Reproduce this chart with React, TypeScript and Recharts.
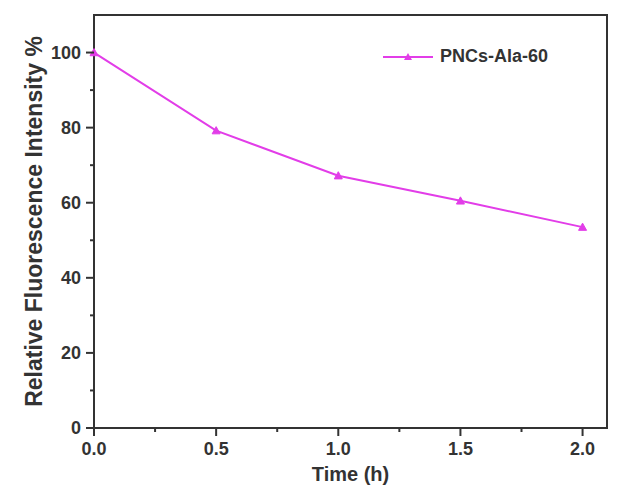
import React from 'react';
import { LineChart, Line, XAxis, YAxis, Legend, ReferenceArea } from 'recharts';

const times = [0, 0.5, 1.0, 1.5, 2.0];
const intensity = [100, 79.2, 67.2, 60.5, 53.5];
const seriesName = 'PNCs-Ala-60';
const xMajorTicks = [0, 0.5, 1.0, 1.5, 2.0];
const xMinorTicks = [0.25, 0.75, 1.25, 1.75];
const yMajorTicks = [0, 20, 40, 60, 80, 100];
const yMinorTicks = [10, 30, 50, 70, 90];
const xDomain = [0, 2.1];
const yDomain = [0, 110];

const data = times.map((t, i) => ({ t, v: intensity[i] }));
const xTicks = [...xMajorTicks, ...xMinorTicks].sort((a, b) => a - b);
const yTicks = [...yMajorTicks, ...yMinorTicks].sort((a, b) => a - b);

const COLOR = '#e23de8';
const AXIS = '#333333';
const FONT = '"Liberation Sans", Arial, sans-serif';
const TICK_SIZE = 8;
const MINOR_SIZE = 4;
const X_TICK_MARGIN = 6;
const Y_TICK_MARGIN = 5;

const Triangle = (props: any) => {
  const { cx, cy } = props;
  if (cx == null || cy == null) return <g />;
  const s = 4;
  return <path d={`M${cx},${cy - s} L${cx + s},${cy + s * 0.8} L${cx - s},${cy + s * 0.8} Z`} fill={COLOR} stroke={COLOR} />;
};

const XTick = (props: any) => {
  const { x, y, payload } = props;
  const v = payload.value as number;
  const major = xMajorTicks.includes(v);
  const axisY = y - TICK_SIZE - X_TICK_MARGIN;
  return (
    <g>
      <line x1={x} x2={x} y1={axisY} y2={axisY + (major ? TICK_SIZE : MINOR_SIZE)} stroke={AXIS} strokeWidth={2} />
      {major && (
        <text x={x} y={y} dy="0.71em" textAnchor="middle" fill={AXIS} fontFamily={FONT} fontWeight={700} fontSize={18}>
          {v.toFixed(1)}
        </text>
      )}
    </g>
  );
};

const YTick = (props: any) => {
  const { x, y, payload } = props;
  const v = payload.value as number;
  const major = yMajorTicks.includes(v);
  const axisX = x + TICK_SIZE + Y_TICK_MARGIN;
  return (
    <g>
      <line x1={axisX} x2={axisX - (major ? TICK_SIZE : MINOR_SIZE)} y1={y} y2={y} stroke={AXIS} strokeWidth={2} />
      {major && (
        <text x={x} y={y} dy="0.355em" textAnchor="end" fill={AXIS} fontFamily={FONT} fontWeight={700} fontSize={18}>
          {v}
        </text>
      )}
    </g>
  );
};

const LegendContent = () => (
  <div style={{ display: 'flex', alignItems: 'center', fontFamily: FONT, fontWeight: 700, fontSize: 18, color: AXIS }}>
    <svg width={50} height={12} style={{ marginRight: 7 }}>
      <line x1={0} y1={6} x2={50} y2={6} stroke={COLOR} strokeWidth={2} />
      <path d="M25,2 L29,9 L21,9 Z" fill={COLOR} />
    </svg>
    <span>{seriesName}</span>
  </div>
);

export default function App() {
  return (
    <div style={{ position: 'absolute', left: 0, top: 0, background: '#fff' }}>
      <LineChart width={624} height={499} data={data} margin={{ top: 15, right: 17, bottom: 0, left: 0 }}>
        <XAxis
          xAxisId="main"
          dataKey="t"
          type="number"
          domain={xDomain}
          ticks={xTicks}
          interval={0}
          height={71}
          axisLine={{ stroke: AXIS, strokeWidth: 2 }}
          tickLine={false}
          tickSize={TICK_SIZE}
          tickMargin={X_TICK_MARGIN}
          tick={XTick}
          label={{ value: 'Time (h)', position: 'insideBottom', offset: 18, fill: AXIS, fontFamily: FONT, fontWeight: 700, fontSize: 20 }}
        />
        <YAxis
          yAxisId="main"
          type="number"
          domain={yDomain}
          ticks={yTicks}
          interval={0}
          width={94}
          axisLine={{ stroke: AXIS, strokeWidth: 2 }}
          tickLine={false}
          tickSize={TICK_SIZE}
          tickMargin={Y_TICK_MARGIN}
          tick={YTick}
          label={{ value: 'Relative Fluorescence Intensity %', angle: -90, position: 'insideLeft', offset: 34, style: { textAnchor: 'middle' }, fill: AXIS, fontFamily: FONT, fontWeight: 700, fontSize: 23 }}
        />
        <ReferenceArea
          xAxisId="main"
          yAxisId="main"
          x1={xDomain[0]}
          x2={xDomain[1]}
          y1={yDomain[0]}
          y2={yDomain[1]}
          fill="none"
          fillOpacity={0}
          stroke={AXIS}
          strokeWidth={2}
          ifOverflow="visible"
        />
        <Legend content={LegendContent} verticalAlign="middle" align="center" layout="horizontal" wrapperStyle={{ top: 46, left: 383, width: 220 }} />
        <Line
          xAxisId="main"
          yAxisId="main"
          type="linear"
          dataKey="v"
          name={seriesName}
          stroke={COLOR}
          strokeWidth={2}
          dot={<Triangle />}
          activeDot={false}
          isAnimationActive={false}
        />
      </LineChart>
    </div>
  );
}
